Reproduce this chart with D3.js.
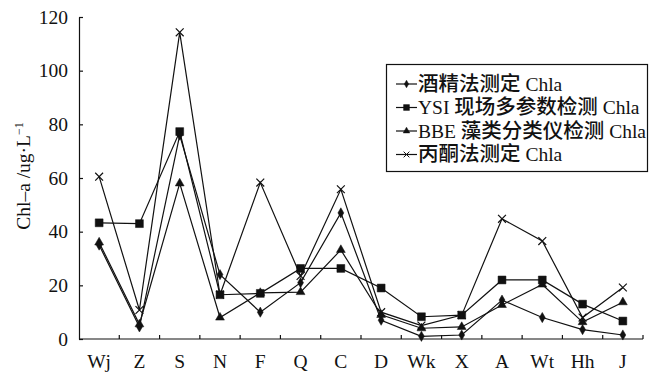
<!DOCTYPE html>
<html>
<head>
<meta charset="utf-8">
<script src="https://cdn.jsdelivr.net/npm/d3@7"></script>
<style>
  html, body { margin: 0; padding: 0; background: #fff; }
  svg { display: block; }
  svg text { font-family: "Liberation Serif", "Tinos", "Times New Roman", "DejaVu Serif", "Noto Sans CJK SC", serif; fill: #111; }
</style>
</head>
<body>
<svg id="chart" width="654" height="373"></svg>
<script>
// Sampling sites along the x axis
const categories = ["Wj", "Z", "S", "N", "F", "Q", "C", "D", "Wk", "X", "A", "Wt", "Hh", "J"];

// Chl-a concentration (ug/L) measured by each method
const ethanolChla = [35, 4.5, 76, 24, 10, 21, 47, 7, 1, 1.5, 14.5, 8, 3.5, 1.5];
const ysiChla     = [43.3, 43, 77.3, 16.5, 17, 26.3, 26.3, 19, 8.3, 8.9, 22, 22, 13, 6.7];
const bbeChla     = [36, 5.5, 58, 8, 17.2, 17.5, 33.2, 9, 4, 4.5, 12.7, 20.3, 6.3, 13.7];
const acetoneChla = [60.5, 10.8, 114.3, 16.5, 58.3, 23.5, 55.8, 10, 5, 8.9, 44.8, 36.5, 8, 19.2];

const seriesNames = ["酒精法测定 Chla", "YSI 现场多参数检测 Chla", "BBE 藻类分类仪检测 Chla", "丙酮法测定 Chla"];
const yTicks = [0, 20, 40, 60, 80, 100, 120];

const series = [
  { name: seriesNames[0], values: ethanolChla, symbol: d3.symbolDiamond, size: 30, filled: true },
  { name: seriesNames[1], values: ysiChla, symbol: d3.symbolSquare, size: 62, filled: true },
  { name: seriesNames[2], values: bbeChla, symbol: d3.symbolTriangle, size: 34, filled: true },
  { name: seriesNames[3], values: acetoneChla, symbol: d3.symbolTimes, size: 42, filled: false }
];

const svg = d3.select("#chart");
const plotLeft = 79, plotRight = 643, plotTop = 17, plotBottom = 339;
const serif = '"Liberation Serif", "Tinos", "Times New Roman", "DejaVu Serif", "Noto Sans CJK SC", serif';
const cjk = '"Noto Sans CJK SC", sans-serif';

const x = d3.scaleBand().domain(categories).range([plotLeft, plotRight]).padding(0);
const y = d3.scaleLinear().domain([0, 120]).range([plotBottom, plotTop]);
const cx = c => x(c) + x.bandwidth() / 2;

// Y axis with inward ticks
const yAxis = svg.append("g").attr("transform", `translate(${plotLeft},0)`)
  .call(d3.axisLeft(y).tickValues(yTicks).tickSizeInner(-4).tickSizeOuter(0).tickPadding(11));
yAxis.attr("font-family", serif).attr("font-size", 19.5);
yAxis.select(".domain").attr("stroke", "#111").attr("stroke-width", 1.2);
yAxis.selectAll(".tick line").attr("stroke", "#111").attr("stroke-width", 1.2);
yAxis.selectAll(".tick text").attr("fill", "#111");

// X axis line with upward ticks at band boundaries
svg.append("line").attr("x1", plotLeft).attr("x2", plotRight).attr("y1", plotBottom).attr("y2", plotBottom)
  .attr("stroke", "#111").attr("stroke-width", 1.2);
svg.append("g").selectAll("line").data(categories.slice(1).concat([null]))
  .join("line")
  .attr("x1", d => d === null ? plotRight : x(d))
  .attr("x2", d => d === null ? plotRight : x(d))
  .attr("y1", plotBottom).attr("y2", plotBottom - 4)
  .attr("stroke", "#111").attr("stroke-width", 1.2);
svg.append("g").attr("font-family", serif).selectAll("text").data(categories).join("text")
  .attr("x", d => cx(d)).attr("y", 368)
  .attr("text-anchor", "middle").attr("font-size", 19.5)
  .text(d => d);

// Y axis title
svg.append("text")
  .attr("font-family", serif)
  .attr("transform", "translate(30,176) rotate(-90)")
  .attr("text-anchor", "middle").attr("font-size", 19.5)
  .html('Chl–a /ug·L<tspan dy="-7" font-size="12">−1</tspan>');

// Lines and markers
const line = d3.line().x((d, i) => cx(categories[i])).y(d => y(d));
series.forEach(s => {
  svg.append("path").datum(s.values)
    .attr("d", line).attr("fill", "none")
    .attr("stroke", "#111").attr("stroke-width", 1.2);
  svg.append("g").selectAll("path").data(s.values).join("path")
    .attr("transform", (d, i) => `translate(${cx(categories[i])},${y(d)})`)
    .attr("d", d3.symbol().type(s.symbol).size(s.size))
    .attr("fill", s.filled ? "#111" : "none")
    .attr("stroke", "#111")
    .attr("stroke-width", s.filled ? 0.5 : 1.2);
});

// Legend: Latin runs in serif, Chinese runs in a slightly larger CJK face
const lg = svg.append("g").attr("font-family", serif);
lg.append("rect").attr("x", 386.5).attr("y", 64.5).attr("width", 261).attr("height", 107)
  .attr("fill", "#fff").attr("stroke", "#111").attr("stroke-width", 1.2);
series.forEach((s, i) => {
  const ly = 84 + i * 23.5;
  lg.append("line").attr("x1", 396).attr("x2", 417).attr("y1", ly).attr("y2", ly)
    .attr("stroke", "#111").attr("stroke-width", 1.2);
  lg.append("path").attr("transform", `translate(406.5,${ly})`)
    .attr("d", d3.symbol().type(s.symbol).size(s.size * 0.55))
    .attr("fill", s.filled ? "#111" : "none")
    .attr("stroke", "#111").attr("stroke-width", s.filled ? 0.5 : 1);
  const t = lg.append("text").attr("x", 418).attr("y", ly + 6.5).attr("font-size", 19.5);
  const runs = s.name.match(/[\u4e00-\u9fff]+|[^\u4e00-\u9fff]+/g);
  runs.forEach(r => {
    const isCjk = /[\u4e00-\u9fff]/.test(r);
    t.append("tspan")
      .attr("font-family", isCjk ? cjk : serif)
      .attr("font-size", isCjk ? 20.5 : 19.5)
      .attr("font-weight", isCjk ? 500 : 400)
      .text(r);
  });
});
</script>
</body>
</html>
